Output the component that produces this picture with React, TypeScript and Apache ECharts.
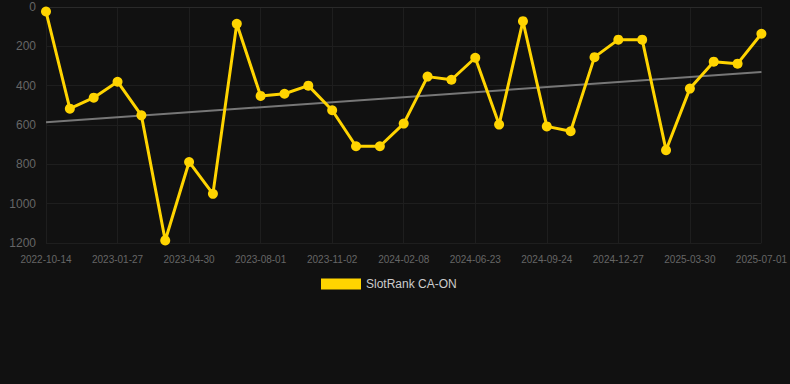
import React, { useEffect, useRef } from "react";
import * as echarts from "echarts";

const categories = [
  "2022-10-14", "2022-11-18", "2022-12-23",
  "2023-01-27", "2023-02-27", "2023-03-30",
  "2023-04-30", "2023-05-31", "2023-07-01",
  "2023-08-01", "2023-09-01", "2023-10-02",
  "2023-11-02", "2023-12-05", "2024-01-07",
  "2024-02-08", "2024-03-24", "2024-05-08",
  "2024-06-23", "2024-07-24", "2024-08-24",
  "2024-09-24", "2024-10-25", "2024-11-26",
  "2024-12-27", "2025-01-27", "2025-02-27",
  "2025-03-30", "2025-04-30", "2025-05-31",
  "2025-07-01",
];

const rankValues = [
  23, 517, 461, 380, 551, 1187, 788, 950, 85, 452, 441, 400, 525, 708, 708,
  593, 354, 370, 258, 598, 72, 607, 632, 255, 166, 166, 728, 415, 278, 288, 136,
];

const trendStart = 586;
const trendEnd = 331;

const yTicks = { min: 0, max: 1200, interval: 200 };

export default function App() {
  const ref = useRef<HTMLDivElement>(null);
  useEffect(() => {
    if (!ref.current) return;
    const chart = echarts.init(ref.current, undefined, { renderer: "svg" });
    const trend = categories.map((_, i) =>
      i === 0 ? trendStart : i === categories.length - 1 ? trendEnd : null
    );
    chart.setOption({
      animation: false,
      backgroundColor: "#111111",
      grid: { left: 46, right: 28, top: 7, bottom: 141 },
      legend: {
        data: [{ name: "SlotRank CA-ON", icon: "rect" }],
        top: 278,
        left: 321,
        padding: 0,
        itemWidth: 40,
        itemHeight: 11,
        itemGap: 10,
        textStyle: { color: "#cccccc", fontSize: 12, fontFamily: "Liberation Sans, Arial, sans-serif" },
      },
      xAxis: {
        type: "category",
        data: categories,
        boundaryGap: false,
        axisLine: { show: true, lineStyle: { color: "#2a2a2a" } },
        axisTick: { show: false },
        axisLabel: {
          interval: 2,
          color: "#666666",
          fontSize: 10,
          margin: 11,
          fontFamily: "Liberation Sans, Arial, sans-serif",
        },
        splitLine: { show: true, interval: 2, lineStyle: { color: "#1e1e1e" } },
      },
      yAxis: {
        type: "value",
        inverse: true,
        min: yTicks.min,
        max: yTicks.max,
        interval: yTicks.interval,
        axisLine: { show: false },
        axisTick: { show: false },
        axisLabel: {
          color: "#666666",
          fontSize: 12,
          margin: 10,
          fontFamily: "Liberation Sans, Arial, sans-serif",
          formatter: (v: number) => String(v),
        },
        splitLine: { show: true, lineStyle: { color: "#1e1e1e" } },
      },
      series: [
        {
          name: "SlotRank CA-ON",
          type: "line",
          data: rankValues,
          symbol: "circle",
          symbolSize: 10,
          lineStyle: { color: "#ffd400", width: 3 },
          itemStyle: { color: "#ffd400" },
          z: 3,
        },
        {
          name: "trend",
          type: "line",
          data: trend,
          connectNulls: true,
          symbol: "none",
          lineStyle: { color: "#777777", width: 2 },
          z: 2,
        },
      ],
    });
    return () => chart.dispose();
  }, []);
  return (
    <div
      ref={ref}
      style={{ position: "fixed", left: 0, top: 0, width: 790, height: 384 }}
    />
  );
}
